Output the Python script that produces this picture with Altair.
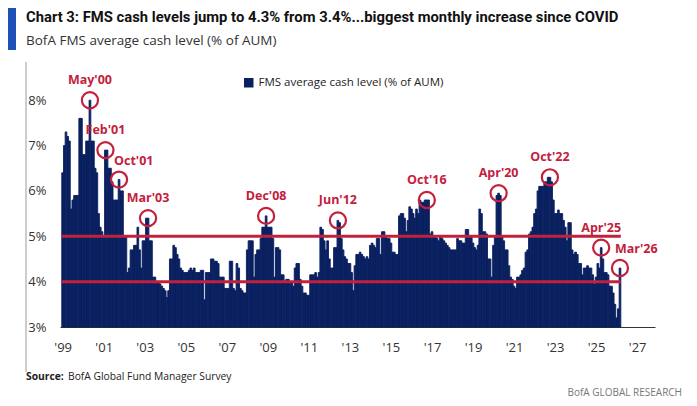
import altair as alt
import pandas as pd

# ---------------- data (monthly FMS average cash level, % of AUM) ----------------
c1999 = [6.4, 7.0, 7.3, 7.2, 7.1, 5.6, 5.8, 5.9, 5.9, 5.9, 7.6, 7.6]
c2000 = [6.8, 6.8, 7.1, 7.1, 8.0, 7.1, 7.1, 6.5, 6.4, 5.5, 5.2, 5.1]
c2001 = [5.0, 6.9, 6.9, 6.5, 6.5, 6.2, 5.8, 5.8, 5.8, 6.25, 6.0, 6.0]
c2002 = [5.0, 5.0, 4.2, 4.3, 4.7, 4.7, 4.8, 4.8, 5.2, 4.7, 4.3, 4.9]
c2003 = [4.9, 5.4, 5.4, 4.9, 4.9, 4.1, 4.1, 4.0, 4.0, 3.95, 3.9, 3.85]
c2004 = [3.8, 3.65, 3.8, 4.5, 4.5, 4.8, 4.75, 4.6, 4.5, 4.3, 4.25, 4.2]
c2005 = [4.2, 4.2, 4.25, 4.3, 4.25, 4.3, 4.2, 4.2, 4.2, 4.25, 4.25, 3.6]
c2006 = [4.2, 4.2, 4.2, 4.5, 4.5, 4.45, 4.45, 4.4, 4.1, 4.1, 4.1, 3.85]
c2007 = [3.85, 3.85, 4.45, 4.45, 3.85, 3.8, 4.4, 4.3, 3.85, 3.8, 3.75, 3.75]
c2008 = [4.7, 4.9, 4.9, 4.9, 4.1, 4.6, 4.7, 4.7, 4.95, 5.2, 5.2, 5.45]
c2009 = [5.2, 5.2, 5.2, 4.95, 4.1, 4.75, 4.75, 4.7, 4.15, 4.15, 4.0, 4.05]
c2010 = [4.05, 4.0, 4.0, 3.9, 4.3, 4.4, 4.4, 4.05, 3.9, 3.75, 3.75, 3.7]
c2011 = [3.7, 4.15, 4.15, 4.15, 4.2, 4.1, 4.2, 5.2, 5.15, 4.9, 4.7, 4.9]
c2012 = [4.5, 4.3, 4.3, 4.75, 4.75, 5.35, 5.3, 4.95, 4.7, 4.55, 4.5, 4.4]
c2013 = [4.4, 4.2, 3.8, 4.35, 4.6, 4.6, 4.65, 4.6, 4.55, 4.5, 4.55, 4.5]
c2014 = [4.8, 4.85, 4.8, 4.75, 4.95, 4.95, 4.6, 5.1, 5.1, 5.0, 4.95, 4.95]
c2015 = [4.85, 4.65, 4.65, 4.6, 4.6, 5.45, 5.5, 5.5, 5.4, 5.1, 5.35, 5.65]
c2016 = [5.6, 5.5, 5.4, 5.6, 5.5, 5.8, 5.75, 5.75, 5.8, 5.8, 5.8, 5.05]
c2017 = [5.1, 5.0, 5.0, 4.95, 4.9, 5.0, 4.95, 4.9, 4.85, 4.8, 4.75, 4.7]
c2018 = [4.7, 4.7, 4.7, 4.95, 4.9, 4.9, 4.85, 4.85, 5.15, 5.15, 5.0, 5.0]
c2019 = [4.85, 4.75, 4.7, 4.8, 5.6, 5.5, 5.1, 5.1, 5.05, 4.5, 4.5, 4.1]
c2020 = [4.8, 5.0, 5.9, 5.95, 5.9, 5.0, 4.9, 4.7, 4.7, 4.35, 4.1, 4.05]
c2021 = [3.9, 3.85, 4.1, 4.1, 4.15, 4.25, 4.3, 4.65, 4.7, 5.05, 5.1, 5.2]
c2022 = [5.5, 5.6, 6.0, 6.1, 6.1, 6.1, 6.2, 6.2, 6.3, 6.3, 6.2, 5.8]
c2023 = [5.5, 5.5, 5.58, 5.5, 5.5, 5.35, 5.2, 4.9, 5.3, 5.3, 4.7, 4.6]
c2024 = [4.65, 4.6, 4.4, 4.4, 4.15, 4.3, 4.3, 4.35, 4.3, 4.3, 4.15, 3.95]
c2025 = [4.1, 4.4, 4.3, 4.75, 4.5, 4.2, 4.2, 4.15, 3.9, 3.9, 3.75, 3.5]
c2026 = [3.2, 3.4, 4.3]

first_month = "1999-01-01"
series_name = "FMS average cash level (% of AUM)"

# reference levels
ref_levels = [4, 5]

# annotated months
ann_labels = ["May'00", "Feb'01", "Oct'01", "Mar'03", "Dec'08", "Jun'12",
              "Oct'16", "Apr'20", "Oct'22", "Apr'25", "Mar'26"]
ann_months = ["2000-05-01", "2001-02-01", "2001-10-01", "2003-03-01", "2008-12-01",
              "2012-06-01", "2016-10-01", "2020-04-01", "2022-10-01", "2025-04-01",
              "2026-03-01"]
ann_side = ["above", "above", "right", "above", "above", "above",
            "above", "above", "above", "above", "right"]

tick_years = list(range(1999, 2028, 2))
y_ticks = [3, 4, 5, 6, 7, 8]

# ---------------- build tables ----------------
values = (c1999 + c2000 + c2001 + c2002 + c2003 + c2004 + c2005 + c2006 + c2007 +
          c2008 + c2009 + c2010 + c2011 + c2012 + c2013 + c2014 + c2015 + c2016 +
          c2017 + c2018 + c2019 + c2020 + c2021 + c2022 + c2023 + c2024 + c2025 + c2026)
n = len(values)
months = pd.date_range(first_month, periods=n, freq="MS")
ext = pd.date_range(pd.Timestamp(first_month) - pd.DateOffset(months=1), periods=n + 2, freq="MS")
mids = ext[:-1] + (ext[1:] - ext[:-1]) / 2
df = pd.DataFrame({
    "date": months,
    "start": mids[:-1],
    "end": mids[1:],
    "cash": values,
    "series": series_name,
})

rules_df = pd.DataFrame({
    "cash": ref_levels,
    "start": [df["start"].min()] * len(ref_levels),
    "end": [df["end"].max()] * len(ref_levels),
})

ann_dates = pd.to_datetime(ann_months)
lookup = dict(zip(df["date"], df["cash"]))
ann_df = pd.DataFrame({
    "date": ann_dates,
    "cash": [lookup[d] for d in ann_dates],
    "label": ann_labels,
    "side": ann_side,
})

# ---------------- style ----------------
NAVY = "#0a2060"
RED = "#c3203c"
FONT = "Open Sans"

x_scale = alt.Scale(domain=[alt.DateTime(year=1998, month=11, date=15),
                            alt.DateTime(year=2027, month=11, date=15)])
y_scale = alt.Scale(domain=[3, 8.6], nice=False, zero=False)

x_axis = alt.Axis(values=[alt.DateTime(year=y, month=1, date=1) for y in tick_years],
                  format="'%y", title=None, grid=False, ticks=False,
                  labelFont=FONT, labelFontSize=13, labelColor="#333333",
                  labelPadding=14, labelFlush=False, labelOverlap=False,
                  domainColor="#333333", domainWidth=1)
y_axis = alt.Axis(values=y_ticks, labelExpr="datum.value + '%'", title=None,
                  grid=False, ticks=False, domain=False,
                  labelFont=FONT, labelFontSize=13, labelColor="#333333",
                  labelPadding=14)

bars = alt.Chart(df).mark_bar(stroke=NAVY, strokeWidth=0.9).encode(
    x=alt.X("start:T", scale=x_scale, axis=x_axis, title=None),
    x2="end:T",
    y=alt.Y("cash:Q", scale=y_scale, axis=y_axis, title=None),
    y2=alt.datum(3),
    color=alt.Color("series:N", scale=alt.Scale(range=[NAVY]),
                    legend=alt.Legend(title=None, orient="none", legendX=183, legendY=4,
                                      symbolType="square", symbolSize=90,
                                      labelFont=FONT, labelFontSize=11.5, labelLimit=0,
                                      labelColor="#222222", symbolStrokeWidth=0)),
)

rules = alt.Chart(rules_df).mark_rule(color=RED, strokeWidth=3).encode(
    x=alt.X("start:T", title=None), x2="end:T", y=alt.Y("cash:Q", title=None)
)

circles = alt.Chart(ann_df).mark_point(shape="circle", filled=False, size=260,
                                       strokeWidth=2.2, color=RED, opacity=1).encode(
    x=alt.X("date:T", title=None), y=alt.Y("cash:Q", title=None)
)

labels_above = alt.Chart(ann_df).transform_filter(alt.datum.side == "above").mark_text(
    font=FONT, fontSize=12.5, fontWeight="bold", color=RED, dy=-20, baseline="middle"
).encode(x=alt.X("date:T", title=None), y=alt.Y("cash:Q", title=None), text="label:N")

labels_right = alt.Chart(ann_df).transform_filter(alt.datum.side == "right").mark_text(
    font=FONT, fontSize=12.5, fontWeight="bold", color=RED, dy=-19, dx=-5,
    align="left", baseline="middle"
).encode(x=alt.X("date:T", title=None), y=alt.Y("cash:Q", title=None), text="label:N")

one = pd.DataFrame({"k": [0]})

blue_tab = alt.Chart(one).mark_rect(color="#1f4fb8").encode(
    x=alt.value(-52), x2=alt.value(-44), y=alt.value(-65), y2=alt.value(-23)
)
frame_line = alt.Chart(one).mark_rule(color="#9a9a9a", strokeWidth=1).encode(
    x=alt.value(-34), y=alt.value(-11), y2=alt.value(299)
)

def txt(s, x, y, size, weight="normal", color="#222222", font=FONT, align="left"):
    return alt.Chart(one).mark_text(text=s, font=font, fontSize=size, fontWeight=weight,
                                    color=color, align=align, baseline="middle").encode(
        x=alt.value(x), y=alt.value(y))

title = txt("Chart 3: FMS cash levels jump to 4.3% from 3.4%...biggest monthly increase since COVID",
            -34, -55, 14.8, "bold", "#111111", font="Roboto")
subtitle = txt("BofA FMS average cash level (% of AUM)", -34, -32, 13.5, "normal", "#333333")
src_b = txt("Source:", -34, 304, 10.3, "bold", "#222222")
src_r = txt("BofA Global Fund Manager Survey", 8, 304, 10.3, "normal", "#222222")
footer = txt("BofA GLOBAL RESEARCH", 622, 320, 10, "normal", "#777777", align="right")

chart = alt.layer(
    bars, rules, circles, labels_above, labels_right,
    blue_tab, frame_line, title, subtitle, src_b, src_r, footer
).properties(
    width=595, height=254,
    autosize=alt.AutoSizeParams(type="none"),
    padding={"left": 52, "top": 65, "right": 34, "bottom": 71},
).configure_view(stroke=None)

chart.save("out.html", embed_options={"renderer": "svg", "actions": False})
